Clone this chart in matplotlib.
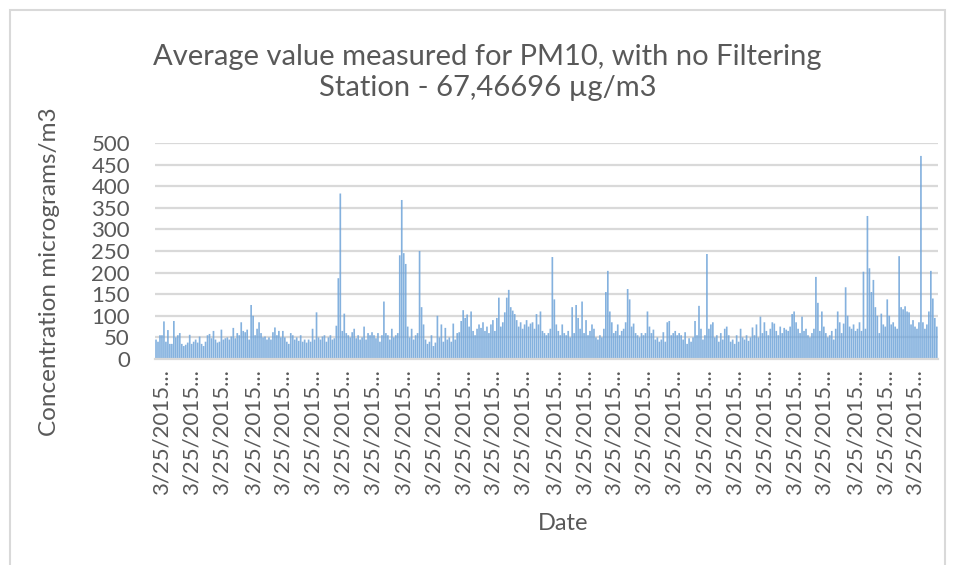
import numpy as np
import matplotlib
matplotlib.use("Agg")
import matplotlib.pyplot as plt
from matplotlib.patches import Rectangle

plt.rcParams['font.family'] = ['Lato', 'DejaVu Sans']

# PM10 readings (micrograms/m3) left to right
seg1 = [45, 40, 55, 55, 87, 40, 67, 35, 35, 88, 50, 55, 60, 35, 30, 33, 38, 56, 35, 40, 45, 38,
        52, 35, 30, 40, 55, 58, 48, 65, 45, 38, 40, 68, 45, 48, 50, 45, 52, 72, 48, 60, 55, 85,
        65, 62, 68, 45, 125, 100, 55, 70, 85, 60, 50, 52, 45, 50, 45, 62, 73, 55, 65, 50, 65, 50]
seg2 = [40, 35, 60, 55, 45, 50, 42, 55, 40, 45, 38, 45, 40, 70, 45, 108, 50, 45, 52, 55, 40, 50,
        55, 45, 48, 77, 187, 383, 65, 105, 60, 55, 50, 62, 70, 48, 55, 45, 50, 75, 45, 60, 55, 62,
        55, 48, 60, 40, 55, 133, 60, 55, 45, 70, 50, 55, 60, 240, 368, 245, 220, 75, 50, 70, 45, 55]
seg3 = [60, 250, 120, 80, 45, 35, 40, 55, 30, 38, 100, 50, 80, 40, 72, 45, 50, 40, 82, 45, 60, 62,
        88, 113, 95, 103, 75, 110, 65, 55, 70, 80, 72, 85, 65, 75, 60, 80, 90, 65, 95, 142, 75, 85,
        108, 142, 160, 120, 112, 104, 90, 75, 85, 70, 80, 90, 75, 82, 85, 70, 104, 80, 110, 65, 60, 55]
seg4 = [60, 70, 236, 138, 80, 65, 55, 80, 60, 55, 65, 50, 120, 60, 125, 95, 70, 133, 60, 90, 55, 65,
        80, 70, 50, 45, 55, 50, 70, 155, 204, 110, 85, 60, 65, 80, 55, 65, 70, 85, 162, 138, 75, 82,
        60, 55, 50, 60, 55, 60, 110, 75, 60, 68, 45, 50, 40, 45, 62, 40, 85, 88, 55, 60, 65, 55]
seg5 = [60, 55, 45, 62, 35, 48, 40, 50, 88, 55, 123, 70, 45, 55, 243, 70, 80, 85, 50, 55, 40, 60,
        45, 70, 75, 55, 40, 45, 35, 55, 40, 70, 50, 45, 55, 42, 50, 73, 55, 80, 50, 98, 60, 85,
        65, 55, 70, 85, 82, 65, 55, 75, 60, 72, 68, 65, 75, 104, 110, 85, 70, 60, 98, 65, 70, 55]
seg6 = [50, 60, 70, 190, 130, 65, 110, 75, 60, 50, 55, 65, 45, 70, 110, 85, 60, 82, 166, 100, 75, 70,
        80, 65, 70, 85, 65, 202, 70, 331, 210, 155, 183, 120, 100, 60, 105, 80, 75, 138, 100, 80, 85,
        75, 70, 238, 120, 115, 122, 110, 108, 80, 90, 75, 70, 85, 470, 85, 70, 80, 110, 204, 140, 95, 75]
values = seg1 + seg2 + seg3 + seg4 + seg5 + seg6

date_label = "3/25/2015..."
n_labels = 26
title = "Average value measured for PM10, with no Filtering\nStation - 67,46696 \u00b5g/m3"

fig = plt.figure(figsize=(9.54, 5.65), dpi=100)
ax = fig.add_axes([0.1625, 0.3646, 0.983 - 0.1625, 0.747 - 0.3646])

x = np.arange(len(values))
ax.bar(x, values, width=0.85, color='#6FA4D9', alpha=0.85, linewidth=0, snap=False)

ax.set_xlim(-0.5, len(values) - 0.5)
ax.set_ylim(0, 500)
ax.set_yticks(range(0, 501, 50))
ax.yaxis.grid(True, color='#D9D9D9', linewidth=1.6)
ax.set_axisbelow(True)

ticks = np.round(np.linspace(3, len(values) - 12, n_labels))
ax.set_xticks(ticks)
ax.set_xticklabels([date_label] * n_labels, rotation=90, ha='center', va='top')

for s in ['top', 'right', 'left']:
    ax.spines[s].set_visible(False)
ax.spines['bottom'].set_color('#D9D9D9')
ax.spines['bottom'].set_linewidth(1.6)
ax.tick_params(axis='both', length=0, labelsize=16, colors='#595959')
ax.tick_params(axis='y', pad=18)
ax.tick_params(axis='x', pad=7)

fig.text(0.511, 0.872, title, ha='center', va='center', fontsize=21, color='#595959',
         linespacing=1.25)
fig.text(0.052, 0.52, "Concentration micrograms/m3", rotation=90, ha='center', va='center',
         fontsize=17.5, color='#595959')
fig.text(0.59, 0.074, "Date", ha='center', va='center', fontsize=17, color='#595959')

fig.patches.append(Rectangle((10 / 954, -0.05), 935 / 954, 1 - 10 / 565 + 0.05,
                             transform=fig.transFigure, fill=False, edgecolor='#D9D9D9',
                             linewidth=1.5))

fig.savefig("out.png", dpi=100)
